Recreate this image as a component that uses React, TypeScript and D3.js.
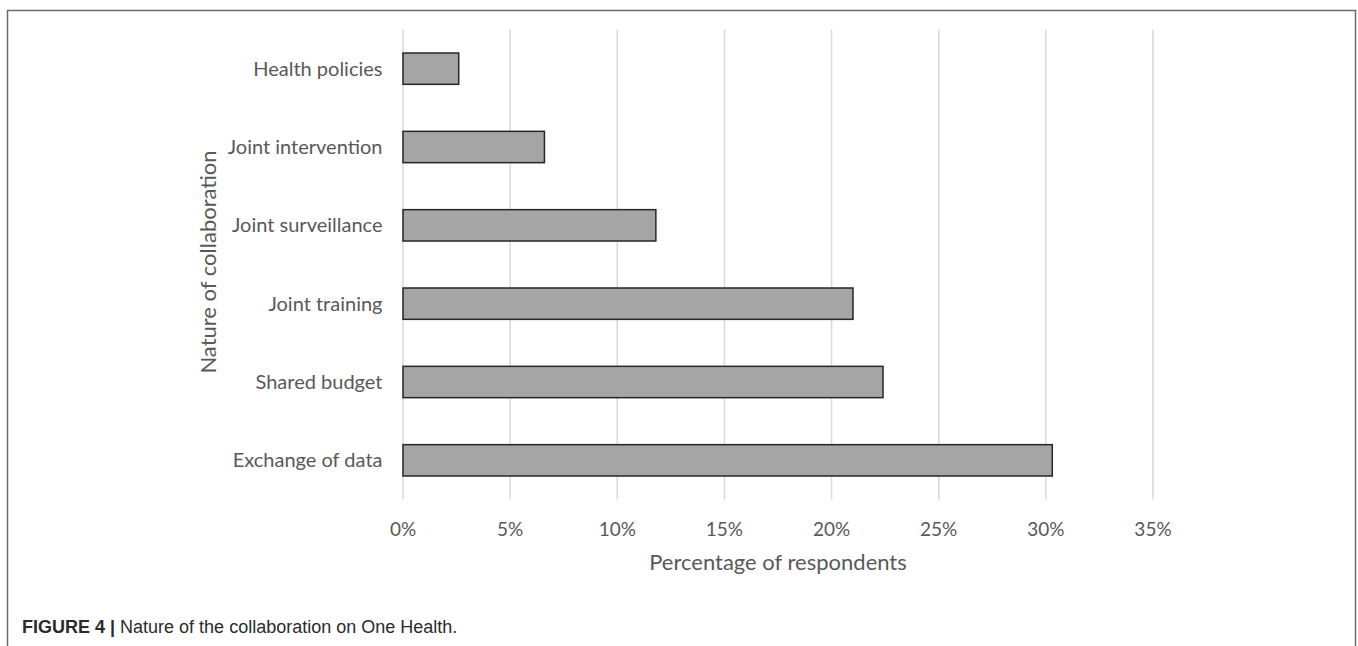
import React from "react";
import * as d3 from "d3";

const categories = [
  "Health policies",
  "Joint intervention",
  "Joint surveillance",
  "Joint training",
  "Shared budget",
  "Exchange of data",
];
const values = [2.6, 6.6, 11.8, 21.0, 22.4, 30.3];
const xTicks = [0, 5, 10, 15, 20, 25, 30, 35];
const xTitle = "Percentage of respondents";
const yTitle = "Nature of collaboration";
const captionBold = "FIGURE 4 |";
const captionText = " Nature of the collaboration on One Health.";

const W = 1358;
const H = 646;
const plot = { left: 403, right: 1153, top: 29.5, bottom: 499.5 };
const labelFont = "Lato, 'Open Sans', sans-serif";
const textColor = "#595959";

export default function App() {
  const x = d3.scaleLinear().domain([0, 35]).range([plot.left, plot.right]);
  const y = d3
    .scaleBand<string>()
    .domain(categories)
    .range([plot.top, plot.bottom])
    .paddingInner(0.6)
    .paddingOuter(0.3);

  return (
    <svg
      width={W}
      height={H}
      style={{ position: "absolute", left: 0, top: 0, background: "#fff" }}
    >
      {/* frame */}
      <path d={`M7.5,${H} V10.5 H1355.5 V${H}`} fill="none" stroke="#6b6b6b" strokeWidth={1.5} />

      {/* gridlines */}
      {xTicks.map((t) => (
        <line
          key={"g" + t}
          x1={x(t)}
          x2={x(t)}
          y1={plot.top}
          y2={plot.bottom}
          stroke="#d9d9d9"
          strokeWidth={1.5}
        />
      ))}

      {/* bars */}
      {categories.map((c, i) => (
        <rect
          key={c}
          x={x(0)}
          y={y(c)}
          width={x(values[i]) - x(0)}
          height={y.bandwidth()}
          fill="#a5a5a5"
          stroke="#262626"
          strokeWidth={1.5}
        />
      ))}

      {/* y labels */}
      {categories.map((c) => (
        <text
          key={"l" + c}
          x={382.5}
          y={(y(c) as number) + y.bandwidth() / 2}
          dy="0.35em"
          textAnchor="end"
          fontFamily={labelFont}
          fontSize={20}
          fill={textColor}
        >
          {c}
        </text>
      ))}

      {/* x tick labels */}
      {xTicks.map((t) => (
        <text
          key={"t" + t}
          x={x(t)}
          y={529}
          dy="0.35em"
          textAnchor="middle"
          fontFamily={labelFont}
          fontSize={19}
          fill={textColor}
        >
          {d3.format(".0%")(t / 100)}
        </text>
      ))}

      {/* axis titles */}
      <text
        x={(plot.left + plot.right) / 2}
        y={570}
        textAnchor="middle"
        fontFamily={labelFont}
        fontSize={22}
        fill={textColor}
      >
        {xTitle}
      </text>
      <text
        transform={`translate(208.5,262) rotate(-90)`}
        dy="0.35em"
        textAnchor="middle"
        fontFamily={labelFont}
        fontSize={22}
        fill={textColor}
      >
        {yTitle}
      </text>

      {/* caption */}
      <text x={22} y={633} fontFamily="'Liberation Sans', Arial, sans-serif" fontSize={18} fill="#2b2b2b">
        <tspan fontWeight="bold">{captionBold}</tspan>
        <tspan>{captionText}</tspan>
      </text>
    </svg>
  );
}
